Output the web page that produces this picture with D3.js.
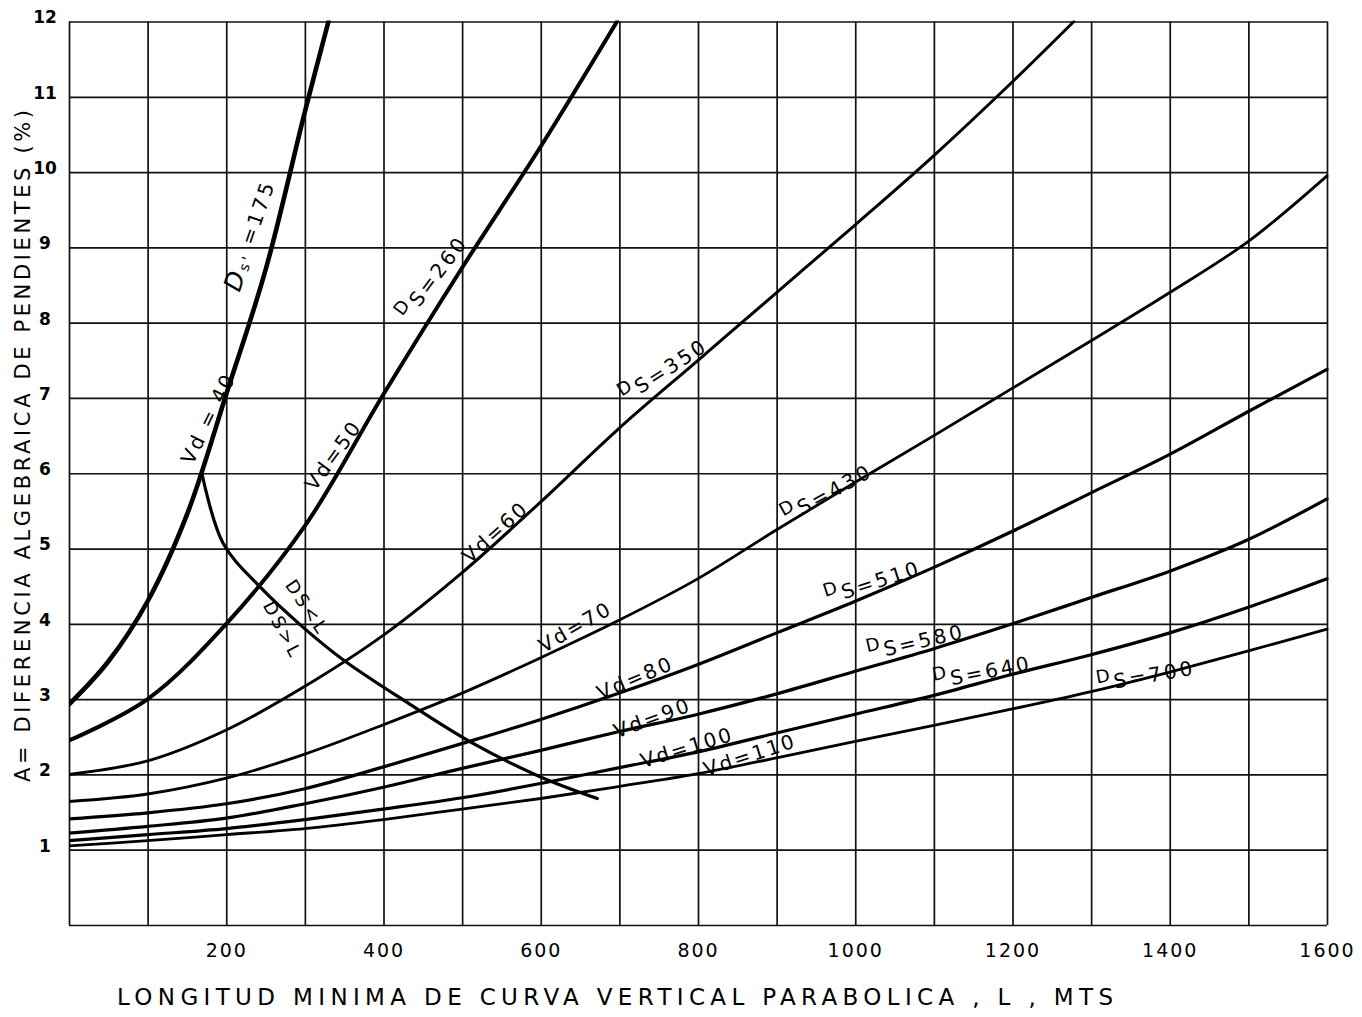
<!DOCTYPE html>
<html>
<head>
<meta charset="utf-8">
<script src="https://cdn.jsdelivr.net/npm/d3@7"></script>
<style>
  html, body { margin: 0; padding: 0; background: #fff; }
  svg { display: block; }
  text { font-family: "DejaVu Sans", "Liberation Sans", sans-serif; fill: #000; }
</style>
</head>
<body>
<svg id="chart" width="1362" height="1017"></svg>
<script>
// Minimum length of crest vertical curve L (m) against algebraic grade difference A (%)
// One curve per design speed Vd (km/h) with its sight distance Ds (m).

const lengthSteps = [0, 100, 200, 300, 400, 500, 600, 700, 800, 900, 1000, 1100, 1200, 1300, 1400, 1500, 1600];

// Vd = 40, Ds = 175
const vd40L = [0, 50, 100, 150, 200, 250, 300, 330];
const vd40A = [2.93, 3.5, 4.3, 5.45, 7.05, 8.7, 10.8, 12.0];

// Vd = 50, Ds = 260
const vd50L = [0, 100, 200, 300, 400, 500, 600, 697];
const vd50A = [2.45, 3.0, 4.0, 5.3, 7.05, 8.73, 10.34, 12.0];

// Vd = 60, Ds = 350
const vd60L = [0, 100, 200, 300, 400, 500, 600, 700, 800, 900, 1000, 1100, 1200, 1278];
const vd60A = [2.0, 2.18, 2.59, 3.17, 3.85, 4.68, 5.62, 6.6, 7.5, 8.4, 9.3, 10.22, 11.2, 12.0];

// Vd = 70 .. 110 are read at every 100 m of lengthSteps
const vd70A  = [1.64, 1.74, 1.95, 2.27, 2.66, 3.08, 3.55, 4.05, 4.6, 5.25, 5.88, 6.5, 7.13, 7.76, 8.4, 9.08, 9.95];
const vd80A  = [1.41, 1.49, 1.61, 1.81, 2.1, 2.41, 2.73, 3.08, 3.46, 3.88, 4.3, 4.75, 5.23, 5.74, 6.25, 6.82, 7.38];
const vd90A  = [1.22, 1.31, 1.42, 1.61, 1.83, 2.08, 2.32, 2.57, 2.8, 3.07, 3.37, 3.67, 4.0, 4.35, 4.7, 5.12, 5.66];
const vd100A = [1.12, 1.2, 1.28, 1.4, 1.54, 1.69, 1.88, 2.09, 2.3, 2.55, 2.8, 3.05, 3.33, 3.59, 3.88, 4.22, 4.6];
const vd110A = [1.05, 1.12, 1.2, 1.28, 1.4, 1.54, 1.68, 1.84, 2.01, 2.22, 2.44, 2.65, 2.87, 3.1, 3.36, 3.64, 3.93];

// Limit between the cases Ds > L and Ds < L
const limitL = [169, 196, 243, 296, 349, 428, 511, 599, 672];
const limitA = [6.0, 5.07, 4.49, 3.97, 3.52, 2.97, 2.43, 1.97, 1.68];

const xTickLabels = [200, 400, 600, 800, 1000, 1200, 1400, 1600];
const yTickLabels = [1, 2, 3, 4, 5, 6, 7, 8, 9, 10, 11, 12];

const speeds    = [40, 50, 60, 70, 80, 90, 100, 110];
const distances = [175, 260, 350, 430, 510, 580, 640, 700];

// ---- layout ----
const svg = d3.select("#chart");
const plot = { left: 69, right: 1327, top: 21.5, bottom: 925 };

const x = d3.scaleLinear().domain([0, 1600]).range([plot.left, plot.right]);
const y = d3.scaleLinear().domain([0, 12]).range([plot.bottom, plot.top]);

// ---- grid (every 100 m and every 1 %) ----
const gridX = d3.axisBottom(x)
  .tickValues(lengthSteps)
  .tickSize(-(plot.bottom - plot.top))
  .tickFormat("");
const gridY = d3.axisLeft(y)
  .tickValues(d3.range(0, 13))
  .tickSize(-(plot.right - plot.left))
  .tickFormat("");

const gx = svg.append("g").attr("transform", `translate(0,${plot.bottom})`).call(gridX);
const gy = svg.append("g").attr("transform", `translate(${plot.left},0)`).call(gridY);
[gx, gy].forEach(g => {
  g.select(".domain").remove();
  g.selectAll(".tick line").attr("stroke", "#111").attr("stroke-width", 1.7);
});

// ---- tick labels ----
const labX = d3.axisBottom(x).tickValues(xTickLabels).tickSize(0).tickPadding(0).tickFormat(d3.format("d"));
const lx = svg.append("g").attr("transform", `translate(0,${plot.bottom + 32})`).call(labX);
lx.select(".domain").remove();
lx.selectAll("text")
  .attr("font-family", '"DejaVu Sans", sans-serif')
  .attr("font-size", 19)
  .attr("letter-spacing", 2)
  .attr("fill", "#000")
  .attr("dy", 0);

const labY = d3.axisLeft(y).tickValues(yTickLabels).tickSize(0).tickPadding(0).tickFormat(d3.format("d"));
const ly = svg.append("g").attr("transform", `translate(45,-4)`).call(labY);
ly.select(".domain").remove();
ly.selectAll("text")
  .attr("font-family", '"DejaVu Sans", sans-serif')
  .attr("font-size", 17)
  .attr("font-weight", "bold")
  .attr("text-anchor", "middle")
  .attr("fill", "#000");

// ---- curves ----
const zipped = (ls, as) => ls.map((l, i) => ({ L: l, A: as[i] }));
const series = [
  { vd: speeds[0], ds: distances[0], pts: zipped(vd40L, vd40A) },
  { vd: speeds[1], ds: distances[1], pts: zipped(vd50L, vd50A) },
  { vd: speeds[2], ds: distances[2], pts: zipped(vd60L, vd60A) },
  { vd: speeds[3], ds: distances[3], pts: zipped(lengthSteps, vd70A) },
  { vd: speeds[4], ds: distances[4], pts: zipped(lengthSteps, vd80A) },
  { vd: speeds[5], ds: distances[5], pts: zipped(lengthSteps, vd90A) },
  { vd: speeds[6], ds: distances[6], pts: zipped(lengthSteps, vd100A) },
  { vd: speeds[7], ds: distances[7], pts: zipped(lengthSteps, vd110A) }
];
const strokeBySpeed = { 40: 4.6, 50: 4.0, 60: 3.0, 70: 2.8, 80: 3.2, 90: 3.2, 100: 3.2, 110: 2.8 };

svg.append("clipPath").attr("id", "plotClip")
  .append("rect")
  .attr("x", plot.left).attr("y", plot.top - 1)
  .attr("width", plot.right - plot.left + 2).attr("height", plot.bottom - plot.top + 1);

const line = d3.line()
  .x(d => x(d.L))
  .y(d => y(d.A))
  .curve(d3.curveCatmullRom.alpha(0.5));

const curves = svg.append("g").attr("clip-path", "url(#plotClip)");
curves.selectAll("path.speed")
  .data(series)
  .join("path")
  .attr("class", "speed")
  .attr("d", d => line(d.pts))
  .attr("fill", "none")
  .attr("stroke", "#000")
  .attr("stroke-width", d => strokeBySpeed[d.vd])
  .attr("stroke-linecap", "round")
  .attr("stroke-linejoin", "round");

curves.append("path")
  .attr("d", line(zipped(limitL, limitA)))
  .attr("fill", "none")
  .attr("stroke", "#000")
  .attr("stroke-width", 3.2)
  .attr("stroke-linecap", "round");

// ---- curve labels (anchored in data units, angle in degrees) ----
const dsLabels = [
  { ds: 175, L: 230, A: 9.16, angle: -71 },
  { ds: 260, L: 459, A: 8.63, angle: -53 },
  { ds: 350, L: 754, A: 7.41, angle: -33 },
  { ds: 430, L: 962, A: 5.78, angle: -29 },
  { ds: 510, L: 1021, A: 4.6, angle: -18 },
  { ds: 580, L: 1076, A: 3.81, angle: -13 },
  { ds: 640, L: 1161, A: 3.41, angle: -11 },
  { ds: 700, L: 1369, A: 3.36, angle: -10 }
];
const vdLabels = [
  { vd: 40, L: 177, A: 6.73, angle: -64, sep: " = " },
  { vd: 50, L: 336, A: 6.24, angle: -54, sep: "=" },
  { vd: 60, L: 542, A: 5.22, angle: -42, sep: "=" },
  { vd: 70, L: 644, A: 3.96, angle: -30, sep: "=" },
  { vd: 80, L: 720, A: 3.28, angle: -23, sep: "=" },
  { vd: 90, L: 742, A: 2.75, angle: -20, sep: "=" },
  { vd: 100, L: 786, A: 2.36, angle: -17, sep: "=" },
  { vd: 110, L: 866, A: 2.26, angle: -18, sep: "=" }
];
const caseLabels = [
  { text: "DS<L", L: 303, A: 4.22, angle: 56 },
  { text: "DS>L", L: 272, A: 3.92, angle: 62 }
];

const labelLayer = svg.append("g");

dsLabels.forEach(d => {
  const t = labelLayer.append("text")
    .attr("transform", `translate(${x(d.L)},${y(d.A)}) rotate(${d.angle})`)
    .attr("text-anchor", "middle")
    .attr("dominant-baseline", "central")
    .attr("font-size", 20)
    .attr("letter-spacing", 3);
  if (d.ds === 175) {
    t.append("tspan").attr("font-size", 25).attr("font-style", "italic").text("D");
    t.append("tspan").attr("font-size", 14).attr("dy", 5).text("s'");
    t.append("tspan").attr("dy", -5).text(" =175");
  } else {
    t.append("tspan").attr("font-size", 18).attr("dy", -4).text("D");
    t.append("tspan").attr("dy", 8).text("S=" + d.ds);
  }
});

vdLabels.forEach(d => {
  labelLayer.append("text")
    .attr("transform", `translate(${x(d.L)},${y(d.A)}) rotate(${d.angle})`)
    .attr("text-anchor", "middle")
    .attr("dominant-baseline", "central")
    .attr("font-size", 20)
    .attr("letter-spacing", 2.5)
    .text("Vd" + d.sep + d.vd);
});

caseLabels.forEach(d => {
  labelLayer.append("text")
    .attr("transform", `translate(${x(d.L)},${y(d.A)}) rotate(${d.angle})`)
    .attr("text-anchor", "middle")
    .attr("dominant-baseline", "central")
    .attr("font-size", 18)
    .attr("letter-spacing", 3)
    .text(d.text);
});

// ---- axis titles ----
svg.append("text")
  .attr("x", 615).attr("y", 1005)
  .attr("text-anchor", "middle")
  .attr("font-size", 23)
  .attr("textLength", 996)
  .attr("lengthAdjust", "spacing")
  .text("LONGITUD MINIMA DE CURVA VERTICAL  PARABOLICA , L , MTS");

svg.append("text")
  .attr("transform", "translate(30,446) rotate(-90)")
  .attr("text-anchor", "middle")
  .attr("font-size", 21)
  .attr("textLength", 672)
  .attr("lengthAdjust", "spacing")
  .text("A= DIFERENCIA  ALGEBRAICA DE  PENDIENTES (%)");
</script>
</body>
</html>
